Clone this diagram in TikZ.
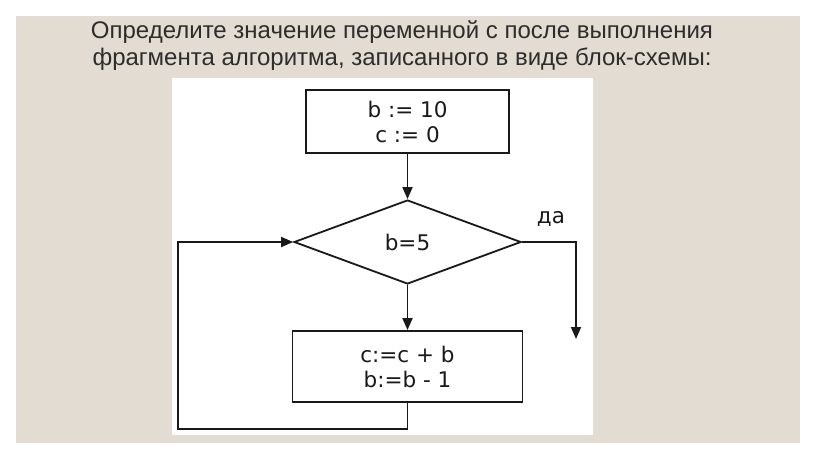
\documentclass[tikz,border=0pt]{standalone}
\usepackage{fontspec}
\setmainfont{Liberation Sans}
\newfontfamily\boxfont{DejaVu Sans}
\usetikzlibrary{shapes.geometric,arrows.meta}
\definecolor{panel}{RGB}{226,220,210}
\definecolor{titlegray}{RGB}{45,45,45}
\definecolor{ink}{RGB}{25,25,25}
\begin{document}
\begin{tikzpicture}[x=1pt,y=-1pt,
  line/.style={draw=ink,line width=1.8pt},
  arr/.style={line,-{Triangle[length=12pt,width=10pt]}},
  procbox/.style={line,rectangle,inner sep=0pt,align=center,font=\boxfont\fontsize{21.5}{25}\selectfont,text=ink},
  decision/.style={line,diamond,inner sep=0pt,font=\boxfont\fontsize{21.5}{25}\selectfont,text=ink},
  titletext/.style={align=center,font=\fontsize{24}{27}\selectfont,text=titlegray}]
\useasboundingbox (0,0) rectangle (816,459);
\fill[white] (0,0) rectangle (816,459);
\fill[panel] (16,16) rectangle (800,443);
\fill[white] (172,78) rectangle (593,435);
\node[titletext] (title) at (402,46) {Определите значение переменной с после выполнения\\фрагмента алгоритма, записанного в виде блок-схемы:};
\node[procbox,minimum width=203pt,minimum height=63pt] (init) at (407.5,121.5) {b := 10\\c := 0};
\node[decision,minimum width=227pt,minimum height=84pt] (cond) at (407.5,242) {b=5};
\node[procbox,minimum width=230pt,minimum height=71pt] (body) at (407.5,366.5) {c:=c + b\\b:=b - 1};
\node[font=\boxfont\fontsize{21.5}{25}\selectfont,text=ink,inner sep=0pt] (yes) at (551,219) {да};
\coordinate (yesend) at (576,339);
\draw[arr] (init.south) -- (cond.north);
\draw[arr] (cond.south) -- (body.north);
\draw[arr] (cond.east) -| (yesend);
\draw[arr] (body.south) |- (178,429) |- (cond.west);
\end{tikzpicture}
\end{document}
